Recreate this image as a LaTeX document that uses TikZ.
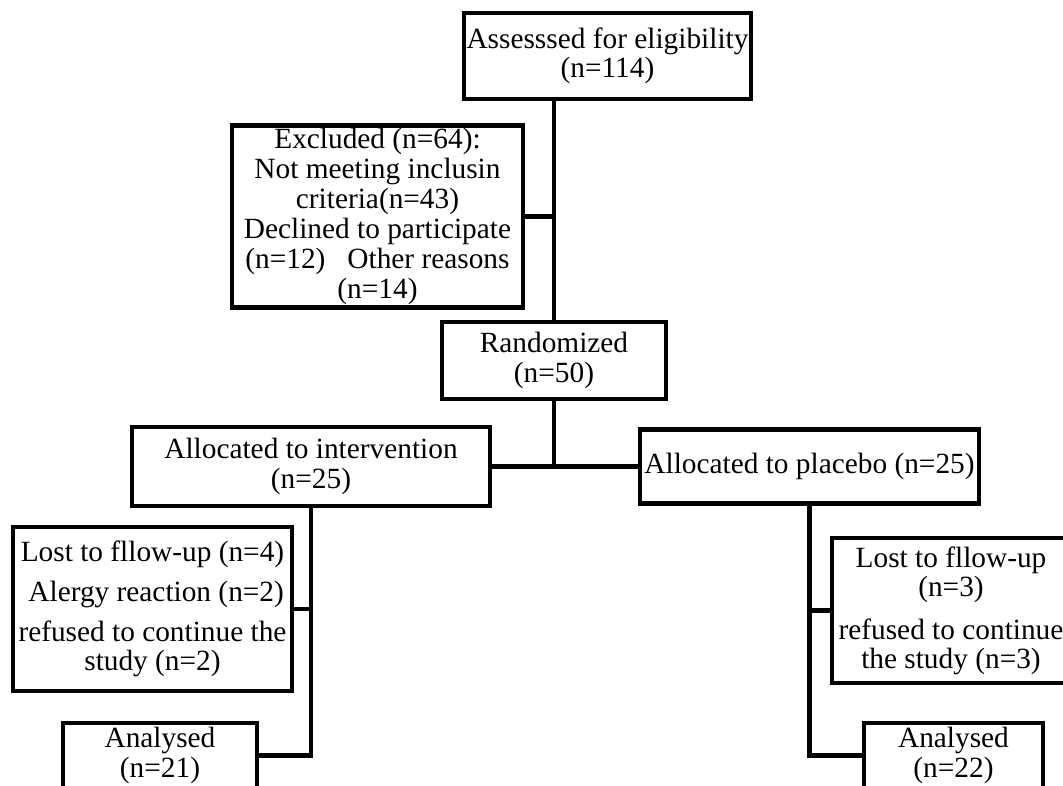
\documentclass[tikz,border=0pt]{standalone}
\usepackage{fontspec}
\setmainfont{Liberation Serif}
\usetikzlibrary{positioning,calc}

\begin{document}
\begin{tikzpicture}[x=0.75pt,y=-0.75pt,
    box/.style={draw,line width=3.4pt,inner sep=2pt,align=center,font=\fontsize{22}{22}\selectfont},
    link/.style={line width=3.4pt}]
    \useasboundingbox (0,0) rectangle (1063,785);
    \clip (0,0) rectangle (1063,785);

    % boxes
    \node[box,minimum width=186.75pt,minimum height=64.5pt] (assess) at (607.5,56) {Assesssed for eligibility\\(n=114)};
    \node[box,minimum width=218.25pt,minimum height=135.75pt,font=\fontsize{22}{22.5}\selectfont] (excl) at (377.5,216.5) {Excluded (n=64):\\Not meeting inclusin\\criteria(n=43)\\Declined to participate\\(n=12)\ \ \ Other reasons\\(n=14)};
    \node[box,minimum width=168pt,minimum height=57.75pt] (rand) at (554,360.5) {Randomized\\(n=50)};
    \node[box,minimum width=268.5pt,minimum height=59.25pt] (interv) at (311,466.5) {Allocated to intervention\\(n=25)};
    \node[box,minimum width=254.25pt,minimum height=55.5pt] (placebo) at (809.5,466.5) {Allocated to placebo (n=25)};

    \node[box,minimum width=209.25pt,minimum height=123pt] (lostL) at (152.5,609) {Lost to fllow-up (n=4)\\[8pt]\ Alergy reaction (n=2)\\[8pt]refused to continue the\\study (n=2)};
    \node[box,minimum width=178.5pt,minimum height=108.75pt] (lostR) at (951,610.5) {Lost to fllow-up\\(n=3)\\[10pt]refused to continue\\the study (n=3)};

    \node[box,minimum width=145.5pt,minimum height=48.75pt] (anaL) at (160,755.5) {Analysed\\(n=21)};
    \node[box,minimum width=134.25pt,minimum height=48.75pt] (anaR) at (953.5,755.5) {Analysed\\(n=22)};

    % lines
    \draw[link] (rand.north |- assess.south) -- (rand.north);
    \draw[link] (excl.east) -- (excl.east -| rand.north);
    \draw[link] (rand.south) -- (rand.south |- interv.east);
    \draw[link] (interv.east) -- (placebo.west);

    % arms
    \draw[link] (interv.south) |- (anaL.east);
    \draw[link] (placebo.south) |- (anaR.west);
    \foreach \arm/\sub in {interv/lostL,placebo/lostR}
        \draw[link] (\sub) -- (\sub -| \arm.south);
\end{tikzpicture}
\end{document}
